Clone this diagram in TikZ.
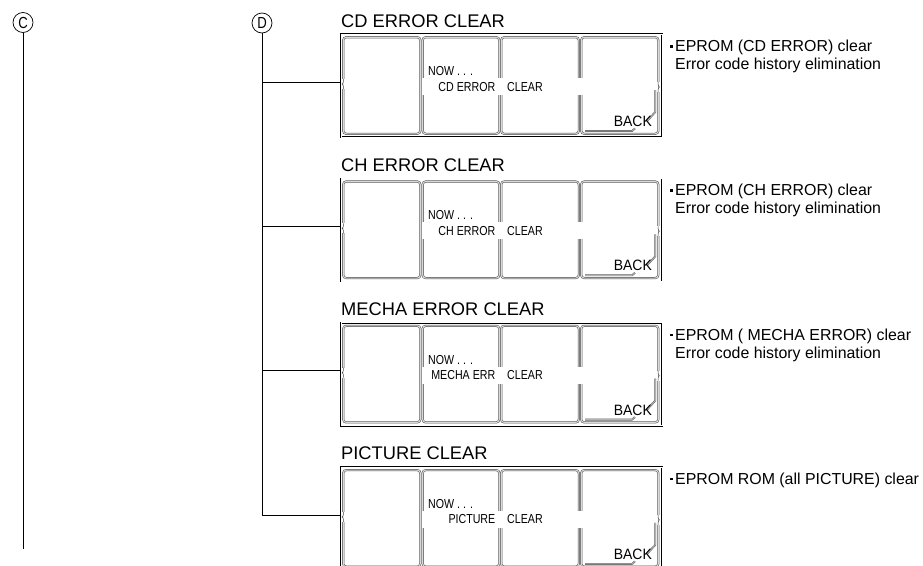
\documentclass[tikz,border=0pt]{standalone}
\usepackage{fontspec}
\setmainfont{Liberation Sans}
\newfontfamily\narrowfont[FakeStretch=0.82]{Liberation Sans}
\newfontfamily\backfont[FakeStretch=0.93]{Liberation Sans}
\begin{document}
\begin{tikzpicture}[x=1pt,y=-1pt,
 btn/.style={draw=black!70, double=black!15, line width=0.5pt, double distance=1.1pt, rounded corners=3pt},
 outerbox/.style={draw=black, double=white, line width=0.45pt, double distance=0.9pt, minimum width=321pt, minimum height=103pt, inner sep=0pt, anchor=north west},
 conn/.style={line width=0.7pt, black},
 titletext/.style={font=\fontsize{18.3}{20}\selectfont, inner sep=0pt, anchor=base west},
 desc/.style={font=\fontsize{15.9}{18}\selectfont, inner sep=0pt, anchor=base west},
 small/.style={font=\narrowfont\fontsize{13}{14}\selectfont, inner sep=0pt},
 backtext/.style={font=\backfont\fontsize{15}{16}\selectfont, inner sep=0pt, anchor=base east},
 circled/.style={circle, draw, line width=0.7pt, minimum size=20pt, inner sep=0pt, font=\narrowfont\fontsize{16}{16}\selectfont},
 hl/.style={draw=black!65, double=black!30, line width=0.45pt, double distance=0.9pt},
 bump/.style={draw=black!75, line width=0.5pt, rounded corners=0.8pt}
]
\useasboundingbox (0,0) rectangle (923,565);

\node[circled] (c) at (23,22.5) {C};
\node[circled] (d) at (262,23) {D};
\coordinate (cend) at (23,549);
\draw[conn] (c) -- (cend);

\foreach \i/\ttl/\wa/\da/\db in {
  1/{CD ERROR CLEAR}/{CD ERROR}/{EPROM (CD ERROR) clear}/{Error code history elimination},
  2/{CH ERROR CLEAR}/{CH ERROR}/{EPROM (CH ERROR) clear}/{Error code history elimination},
  3/{MECHA ERROR CLEAR}/{MECHA ERR}/{EPROM ( MECHA ERROR) clear}/{Error code history elimination},
  4/{PICTURE CLEAR}/{PICTURE}/{EPROM ROM (all PICTURE) clear}/{}}{
  \pgfmathsetmacro\T{34+144.3*(\i-1)}
  \node[outerbox] (box\i) at (341,\T) {};
  \draw[btn] (343.2,\T+3.2) rectangle (420.3,\T+99.8);
  \draw[btn] (422.7,\T+3.2) rectangle (499.3,\T+99.8);
  \draw[btn] (501.2,\T+3.2) rectangle (578.8,\T+99.8);
  \draw[btn] (581.2,\T+3.2) rectangle (658.3,\T+99.8);
  % white band through the middle
  \fill[white] (421.8,\T+44) rectangle (582.6,\T+61);
  % small bumps on the outer button edges
  \fill[white] (342,\T+45) rectangle (345,\T+55);
  \draw[bump] (343.4,\T+45) -- (343.2,\T+49) -- (342.2,\T+50) -- (343.2,\T+51) -- (343.4,\T+55);
  \fill[white] (656.6,\T+48) rectangle (659.6,\T+58);
  \draw[bump] (658.1,\T+48) -- (658.3,\T+52) -- (659.3,\T+53) -- (658.3,\T+54) -- (658.1,\T+58);
  % highlight of the BACK button
  \draw[hl] (655.3,\T+56) -- (655.3,\T+78) -- (647,\T+87);
  \draw[hl] (585,\T+97) -- (632,\T+97) -- (635,\T+94.5);
  % texts
  \node[titletext] (t\i) at (341,\T-7) {\ttl};
  \node[small, anchor=base west] (n\i) at (428,\T+41.5) {NOW . . .};
  \node[small, anchor=base east] (w\i) at (495.5,\T+57) {\wa};
  \node[small, anchor=base west] (cl\i) at (507,\T+57) {CLEAR};
  \node[backtext] (b\i) at (652,\T+92.5) {BACK};
  \fill (670.3,\T+11) rectangle (672.8,\T+13.5);
  \node[desc] (da\i) at (675,\T+17.5) {\da};
  \node[desc] (db\i) at (675,\T+35.5) {\db};
  % connector
  \coordinate (j\i) at (262,\T+48);
  \draw[conn] (j\i) -- (j\i -| box\i.west);
}
\draw[conn] (d) -- (j4);
\end{tikzpicture}
\end{document}
